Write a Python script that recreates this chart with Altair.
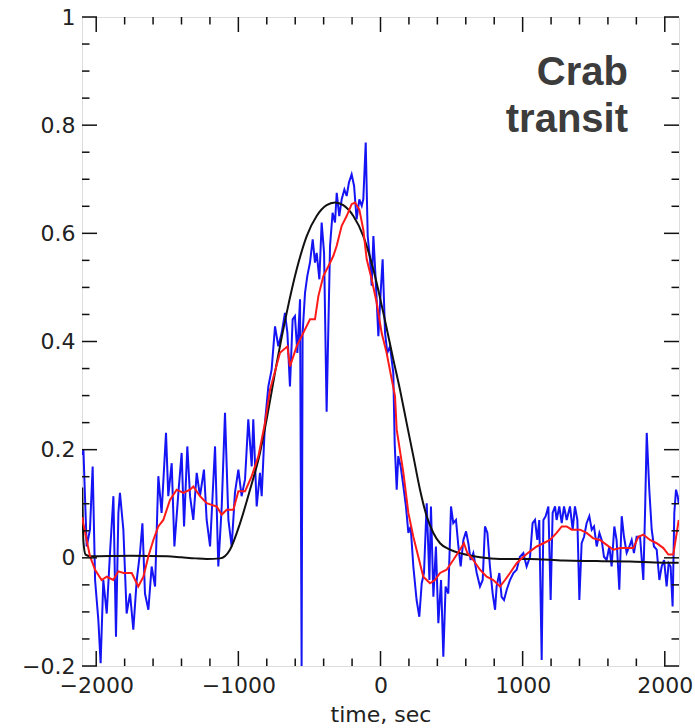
import altair as alt
import pandas as pd

# Measured signal (blue)
blue_t = [-2098, -2090, -2079, -2067, -2044, -2025, -2008, -1985, -1969, -1950,
          -1926, -1903, -1879, -1861, -1844, -1833, -1809, -1786, -1762, -1739,
          -1715, -1692, -1675, -1657, -1633, -1610, -1586, -1563, -1540, -1509,
          -1493, -1469, -1450, -1422, -1399, -1382, -1359, -1340, -1317, -1293,
          -1270, -1242, -1223, -1199, -1164, -1141, -1117, -1094, -1070, -1047,
          -1024, -1000, -977, -953, -930, -906, -895, -871, -848, -836,
          -813, -789, -766, -742, -719, -695, -672, -655, -637, -618,
          -602, -585, -566, -555, -548, -531, -515, -496, -477, -461,
          -449, -430, -414, -397, -379, -355, -337, -320, -308, -290,
          -273, -254, -238, -222, -203, -186, -168, -149, -132, -121,
          -104, -90, -74, -62, -50, -34, -15, 1, 15, 32,
          48, 67, 90, 100, 114, 125, 142, 161, 179, 196,
          212, 231, 254, 273, 290, 306, 325, 344, 355, 372,
          390, 407, 426, 442, 458, 477, 496, 512, 531, 548,
          564, 583, 602, 618, 634, 653, 677, 700, 719, 735,
          752, 770, 789, 806, 817, 836, 852, 869, 888, 911,
          935, 958, 981, 1005, 1028, 1052, 1070, 1087, 1103, 1117,
          1134, 1146, 1162, 1181, 1197, 1211, 1228, 1239, 1258, 1275,
          1291, 1310, 1333, 1352, 1368, 1385, 1399, 1415, 1432, 1450,
          1469, 1486, 1502, 1521, 1540, 1556, 1572, 1591, 1610, 1626,
          1645, 1661, 1680, 1697, 1713, 1732, 1751, 1767, 1783, 1802,
          1826, 1849, 1861, 1873, 1891, 1908, 1924, 1943, 1962, 1978,
          1995, 2013, 2027, 2041, 2055, 2067, 2079, 2091, 2098]
blue_v = [0.19, 0.200, 0.113, 0.021, 0.052, 0.169, -0.041, -0.115, -0.195, -0.041,
          -0.103, 0.009, 0.114, -0.146, 0.083, 0.120, 0.052, -0.103, -0.066, -0.133,
          -0.041, 0.009, 0.064, -0.066, -0.096, -0.016, -0.053, 0.151, 0.083, 0.231,
          0.114, 0.175, 0.021, 0.120, 0.194, 0.058, 0.206, 0.114, 0.070, 0.157,
          0.114, 0.163, 0.070, 0.021, 0.206, -0.016, 0.095, 0.268, 0.070, 0.021,
          0.120, 0.163, 0.114, 0.145, 0.256, 0.169, 0.256, 0.095, 0.157, 0.114,
          0.249, 0.317, 0.348, 0.428, 0.391, 0.416, 0.453, 0.416, 0.317, 0.441,
          0.447, 0.379, 0.478, -0.2, 0.416, 0.490, 0.521, 0.546, 0.589, 0.546,
          0.564, 0.515, 0.620, 0.564, 0.27, 0.577, 0.638, 0.620, 0.675, 0.632,
          0.663, 0.681, 0.669, 0.694, 0.709, 0.688, 0.626, 0.663, 0.651, 0.663,
          0.768, 0.595, 0.552, 0.503, 0.595, 0.515, 0.410, 0.490, 0.552, 0.416,
          0.379, 0.391, 0.342, 0.21, 0.126, 0.188, 0.169, 0.132, 0.095, 0.046,
          0.058, -0.016, -0.078, -0.109, -0.047, -0.028, 0.101, -0.041, 0.095, -0.072,
          0.021, -0.121, -0.041, -0.183, -0.053, -0.066, 0.095, 0.064, 0.070, 0.021,
          -0.016, 0.033, 0.049, 0.027, -0.004, 0.009, -0.028, -0.053, -0.041, 0.058,
          0.046, -0.016, -0.066, -0.096, -0.053, -0.028, -0.072, -0.078, -0.059, -0.041,
          -0.028, -0.022, 0.002, 0.009, -0.016, 0.002, 0.064, 0.070, 0.033, 0.070,
          -0.189, 0.070, 0.077, 0.095, -0.078, 0.083, 0.095, 0.070, 0.095, 0.064,
          0.095, 0.070, 0.095, 0.052, 0.095, 0.070, -0.078, 0.027, 0.039, 0.064,
          0.077, 0.052, 0.058, 0.021, 0.046, 0.033, 0.002, -0.004, 0.021, -0.016,
          0.058, 0.033, -0.059, 0.077, 0.039, 0.009, 0.021, 0.033, 0.009, 0.039,
          0.039, -0.041, 0.083, 0.231, 0.126, 0.052, 0.021, 0.015, -0.041, -0.016,
          -0.004, -0.053, -0.010, -0.016, -0.090, 0.083, 0.126, 0.114, 0.10]

# Smoothed signal (red)
red_t = [-2098, -2091, -2044, -2008, -1962, -1926, -1880, -1844, -1809, -1750,
         -1704, -1668, -1633, -1598, -1563, -1528, -1481, -1434, -1387, -1340,
         -1317, -1270, -1223, -1188, -1153, -1117, -1082, -1035, -1000, -953,
         -906, -859, -813, -777, -707, -655, -637, -590, -543, -496,
         -461, -437, -402, -367, -332, -308, -273, -238, -203, -179,
         -149, -121, -97, -62, -27, 8, 43, 79, 102, 114,
         161, 196, 231, 266, 301, 348, 383, 419, 465, 512,
         559, 587, 611, 653, 700, 747, 794, 841, 876, 911,
         958, 1005, 1052, 1099, 1146, 1192, 1239, 1275, 1310, 1345,
         1404, 1450, 1497, 1544, 1591, 1638, 1685, 1732, 1779, 1814,
         1849, 1896, 1943, 1990, 2025, 2060, 2084, 2098]
red_v = [0.075, 0.064, 0.003, -0.022, -0.041, -0.035, -0.041, -0.025, -0.028, -0.028,
         -0.053, -0.035, 0.003, 0.033, 0.058, 0.070, 0.107, 0.126, 0.120, 0.126,
         0.132, 0.114, 0.101, 0.098, 0.095, 0.080, 0.089, 0.089, 0.123, 0.123,
         0.151, 0.188, 0.249, 0.311, 0.379, 0.391, 0.354, 0.391, 0.416, 0.441,
         0.441, 0.484, 0.521, 0.539, 0.558, 0.577, 0.614, 0.632, 0.654, 0.657,
         0.644, 0.607, 0.552, 0.515, 0.472, 0.416, 0.379, 0.330, 0.299, 0.237,
         0.157, 0.083, 0.039, 0.002, -0.035, -0.047, -0.041, -0.028, -0.022, -0.004,
         0.015, 0.027, 0.009, -0.004, -0.022, -0.035, -0.041, -0.053, -0.041, -0.028,
         -0.010, 0.002, 0.012, 0.021, 0.027, 0.033, 0.046, 0.058, 0.058, 0.052,
         0.052, 0.046, 0.036, 0.033, 0.024, 0.015, 0.018, 0.018, 0.018, 0.039,
         0.043, 0.033, 0.027, 0.018, 0.006, 0.006, 0.046, 0.07]

# Beam model (black)
model_t = [-2098, -2090, -2075, -2044, -1762, -1500, -1400, -1300, -1223, -1129,
           -1059, -988, -918, -848, -801, -754, -730, -660, -590, -519,
           -449, -379, -320, -262, -191, -121, -50, 20, 90, 137,
           184, 231, 278, 325, 372, 419, 489, 583, 700, 841,
           1052, 1286, 1521, 1755, 1990, 2098]
model_v = [0.13, 0.03, 0.006, 0.003, 0.004, 0.003, 0.001, -0.001, -0.002, -0.001,
           0.015, 0.064, 0.126, 0.194, 0.256, 0.325, 0.36, 0.453, 0.533, 0.595,
           0.632, 0.652, 0.657, 0.652, 0.632, 0.595, 0.533, 0.453, 0.367, 0.311,
           0.249, 0.188, 0.126, 0.077, 0.046, 0.027, 0.015, 0.007, 0.001, -0.002,
           -0.002, -0.005, -0.006, -0.007, -0.009, -0.009]

# Tick positions
x_major = [-2000, -1000, 0, 1000, 2000]
x_minor = [-1800, -1600, -1400, -1200, -800, -600, -400, -200,
           200, 400, 600, 800, 1200, 1400, 1600, 1800]
y_major = [-0.2, 0, 0.2, 0.4, 0.6, 0.8, 1.0]
y_minor = [-0.15, -0.1, -0.05, 0.05, 0.1, 0.15, 0.25, 0.3, 0.35,
           0.45, 0.5, 0.55, 0.65, 0.7, 0.75, 0.85, 0.9, 0.95]

W, H = 597, 649
MAJOR, MINOR = 15, 7.5
FONT = "DejaVu Sans"
INK = "#111111"

blue = pd.DataFrame({"t": blue_t, "v": blue_v})
red = pd.DataFrame({"t": red_t, "v": red_v})
model = pd.DataFrame({"t": model_t, "v": model_v})

xs = alt.Scale(domain=[-2100, 2100], nice=False, zero=False)
ys = alt.Scale(domain=[-0.2, 1.0], nice=False, zero=False)

x_axis = alt.Axis(values=x_major, format="d", title="time, sec", grid=False,
                  ticks=False, domain=False, labelFont=FONT, labelFontSize=22,
                  labelColor="#222", labelPadding=9, titleFont=FONT,
                  titleFontSize=22, titleFontWeight="normal", titleColor="#222",
                  titlePadding=8, labelFlush=False)
y_axis = alt.Axis(values=y_major, format="~g", title=None, grid=False,
                  ticks=False, domain=False, labelFont=FONT, labelFontSize=22,
                  labelColor="#222", labelPadding=7)

X = alt.X("t:Q", scale=xs, axis=x_axis, title="time, sec")
Y = alt.Y("v:Q", scale=ys, axis=y_axis, title=None)

blue_line = alt.Chart(blue).mark_line(color="#1414f5", strokeWidth=2, clip=True).encode(
    x=X, y=Y)
model_line = alt.Chart(model).mark_line(color="#111111", strokeWidth=2, clip=True,
                                        interpolate="monotone").encode(x=X, y=Y)
red_line = alt.Chart(red).mark_line(color="#ff1a1a", strokeWidth=2, clip=True).encode(
    x=X, y=Y)


def x_ticks(values, length):
    df = pd.DataFrame({"t": values})
    base = alt.Chart(df).mark_rule(color=INK, strokeWidth=1.5)
    bottom = base.encode(x=X, y=alt.value(H), y2=alt.value(H - length))
    top = base.encode(x=X, y=alt.value(0), y2=alt.value(length))
    return [bottom, top]


def y_ticks(values, length):
    df = pd.DataFrame({"v": values})
    base = alt.Chart(df).mark_rule(color=INK, strokeWidth=1.5)
    left = base.encode(y=Y, x=alt.value(0), x2=alt.value(length))
    right = base.encode(y=Y, x=alt.value(W), x2=alt.value(W - length))
    return [left, right]


ticks = (x_ticks(x_major, MAJOR) + x_ticks(x_minor, MINOR)
         + y_ticks(y_major, MAJOR) + y_ticks(y_minor, MINOR))

label = alt.Chart(pd.DataFrame({"txt": ["Crab\ntransit"]})).mark_text(
    align="right", baseline="alphabetic", font="Liberation Sans",
    fontWeight="bold", fontSize=40, color="#3c3c3c", lineBreak="\n",
    lineHeight=47,
).encode(text="txt:N", x=alt.value(546), y=alt.value(68))

chart = alt.layer(blue_line, model_line, red_line, *ticks, label).properties(
    width=W, height=H,
    autosize=alt.AutoSizeParams(type="none"),
    padding={"left": 82, "top": 17, "right": 16, "bottom": 62},
).configure_view(stroke=INK, strokeWidth=1.5).configure(background="white")

chart.save("out.html", embed_options={"renderer": "svg", "actions": False})
